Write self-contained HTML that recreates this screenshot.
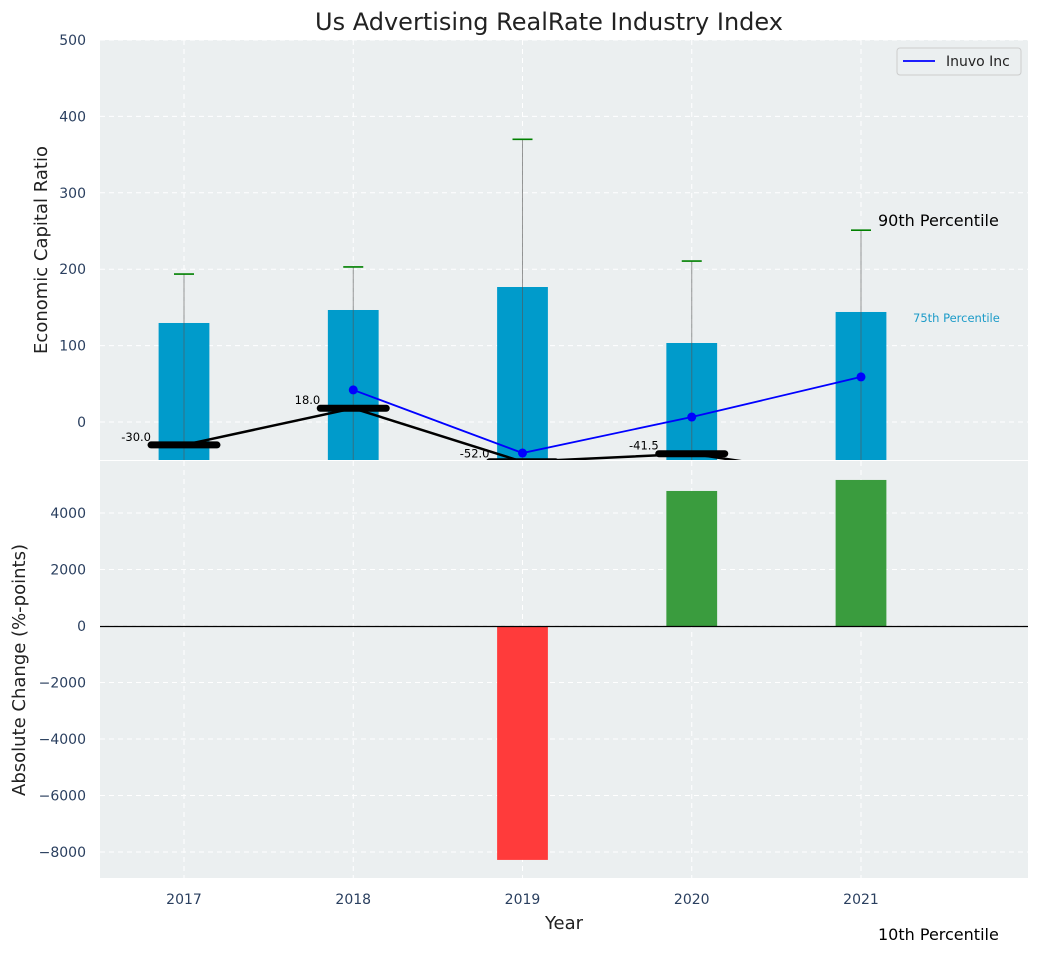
<!DOCTYPE html>
<html><head><meta charset="utf-8"><style>
body{margin:0;background:#fff;font-family:"Liberation Sans","DejaVu Sans",sans-serif}
svg text{font-family:"DejaVu Sans","Liberation Sans",sans-serif}
</style></head><body>
<svg id="c" width="1039" height="954" xmlns="http://www.w3.org/2000/svg"></svg>
<script>
const years=[2017,2018,2019,2020,2021];
const barVals=[129.6,146.6,176.7,103.4,144];
const capVals=[193.7,203,370,210.7,251];
const inuvoYears=[2018,2019,2020,2021];
const inuvoVals=[42,-40.6,6.5,59];
const medVals=[-30,18,-52,-41.5,-75];
const medLabels=["-30.0","18.0","-52.0","-41.5",""];
const changeVals=[0,0,-8280,4780,5170];
const topTicks=[0,100,200,300,400,500];
const botTicks=[-8000,-6000,-4000,-2000,0,2000,4000];
const NS="http://www.w3.org/2000/svg";
const svg=document.getElementById('c');
function el(t,a,p){const e=document.createElementNS(NS,t);for(const k in a)e.setAttribute(k,a[k]);(p||svg).appendChild(e);return e;}
const L=100,R=1028;
const x=v=>184+(v-2017)*169.25;
const yT=v=>422-v*0.764;
const yB=v=>626-v*0.02825;
let e=el('rect',{x:L,y:40,width:R-L,height:420,fill:'#ebeff0'});

e=el('rect',{x:L,y:461,width:R-L,height:417,fill:'#ebeff0'});

const tc='#2a3f5f';
const gTop=el('g',{});
topTicks.forEach(t=>{const y=yT(t);el('line',{x1:L,x2:R,y1:y,y2:y,stroke:'#fff','stroke-dasharray':'5,4','stroke-width':1},gTop);
 const tx=el('text',{x:86,y:y+5,'text-anchor':'end','font-size':14,fill:tc});tx.textContent=t;
 });
years.forEach(yr=>{el('line',{x1:x(yr),x2:x(yr),y1:40,y2:460,stroke:'#fff','stroke-dasharray':'5,4'},gTop);
 el('line',{x1:x(yr),x2:x(yr),y1:461,y2:878,stroke:'#fff','stroke-dasharray':'5,4'},gTop);
 const tx=el('text',{x:x(yr),y:904,'text-anchor':'middle','font-size':14,fill:tc});tx.textContent=yr;
 });
botTicks.forEach(t=>{const y=yB(t);el('line',{x1:L,x2:R,y1:y,y2:y,stroke:'#fff','stroke-dasharray':'5,4'},gTop);
 const tx=el('text',{x:86,y:y+5,'text-anchor':'end','font-size':14,fill:tc});tx.textContent=(t<0?'\u2212'+(-t):t);
 });
const defs=el('defs',{});const cp=el('clipPath',{id:'ct'},defs);el('rect',{x:L,y:40,width:R-L,height:420},cp);
const gt=el('g',{'clip-path':'url(#ct)'});
const bw=x(2017.15)-x(2017);
years.forEach((yr,i)=>{
 const b=el('rect',{x:x(yr)-bw,y:yT(barVals[i]),width:2*bw,height:yT(-60)-yT(barVals[i]),fill:'#009bcb'},gt);
 
 const l=el('line',{x1:x(yr),x2:x(yr),y1:yT(capVals[i]),y2:yT(-60),stroke:'#555','stroke-opacity':0.6,'stroke-width':1},gt);
 
 const c=el('line',{x1:x(yr)-10,x2:x(yr)+10,y1:yT(capVals[i]),y2:yT(capVals[i]),stroke:'green','stroke-width':1.6},gt);
 
});
let p=el('polyline',{points:years.map((yr,i)=>x(yr)+','+yT(medVals[i])).join(' '),fill:'none',stroke:'#000','stroke-width':2.5},gt);

years.forEach((yr,i)=>{
 const m=el('line',{x1:x(yr)-33,x2:x(yr)+33,y1:yT(medVals[i]),y2:yT(medVals[i]),stroke:'#000','stroke-width':7,'stroke-linecap':'round'},gt);
 
 if(medLabels[i]){const t=el('text',{x:x(yr)-33,y:yT(medVals[i])-4,'text-anchor':'end','font-size':11.5,fill:'#000'},gt);t.textContent=medLabels[i];
 }
});
p=el('polyline',{points:inuvoYears.map((yr,i)=>x(yr)+','+yT(inuvoVals[i])).join(' '),fill:'none',stroke:'blue','stroke-width':1.8},gt);

inuvoYears.forEach((yr,i)=>{const d=el('circle',{cx:x(yr),cy:yT(inuvoVals[i]),r:4.5,fill:'blue'},gt);
 });
years.forEach((yr,i)=>{const v=changeVals[i];if(!v)return;
 const b=el('rect',{x:x(yr)-bw,y:Math.min(yB(v),yB(0)),width:2*bw,height:Math.abs(yB(v)-yB(0)),fill:v<0?'#ff3b3b':'#3a9c3e'});
 });
e=el('line',{x1:L,x2:R,y1:Math.round(yB(0))+0.5,y2:Math.round(yB(0))+0.5,stroke:'#000','stroke-width':1.2});

function txt(s,a,n){const t=el('text',a);t.textContent=s;return t;}
txt('Us Advertising RealRate Industry Index',{x:549,y:30,'text-anchor':'middle','font-size':24,fill:'#222'},'chart-title');
txt('Economic Capital Ratio',{x:47,y:250,'text-anchor':'middle','font-size':18,fill:'#222',transform:'rotate(-90 47 250)'},'y-axis-title');
txt('Absolute Change (%-points)',{x:25,y:670,'text-anchor':'middle','font-size':18,fill:'#222',transform:'rotate(-90 25 670)'},'y2-axis-title');
txt('Year',{x:564,y:929,'text-anchor':'middle','font-size':18,fill:'#222'},'x-axis-title');
txt('90th Percentile',{x:878,y:226,'font-size':16,fill:'#000'},'90th-percentile-label');
txt('75th Percentile',{x:913,y:322,'font-size':11.5,fill:'#1c9bc8'},'75th-percentile-label');
txt('10th Percentile',{x:878,y:940,'font-size':16,fill:'#000'},'10th-percentile-label');
const lg=el('g',{});
el('rect',{x:897,y:48,width:124,height:27,rx:3,fill:'#ebeff0',stroke:'#ccc'},lg);
el('line',{x1:903,x2:935,y1:61,y2:61,stroke:'blue','stroke-width':1.8},lg);
const lt=el('text',{x:946,y:66,'font-size':14,fill:'#222'},lg);lt.textContent='Inuvo Inc';

</script>
</body></html>
